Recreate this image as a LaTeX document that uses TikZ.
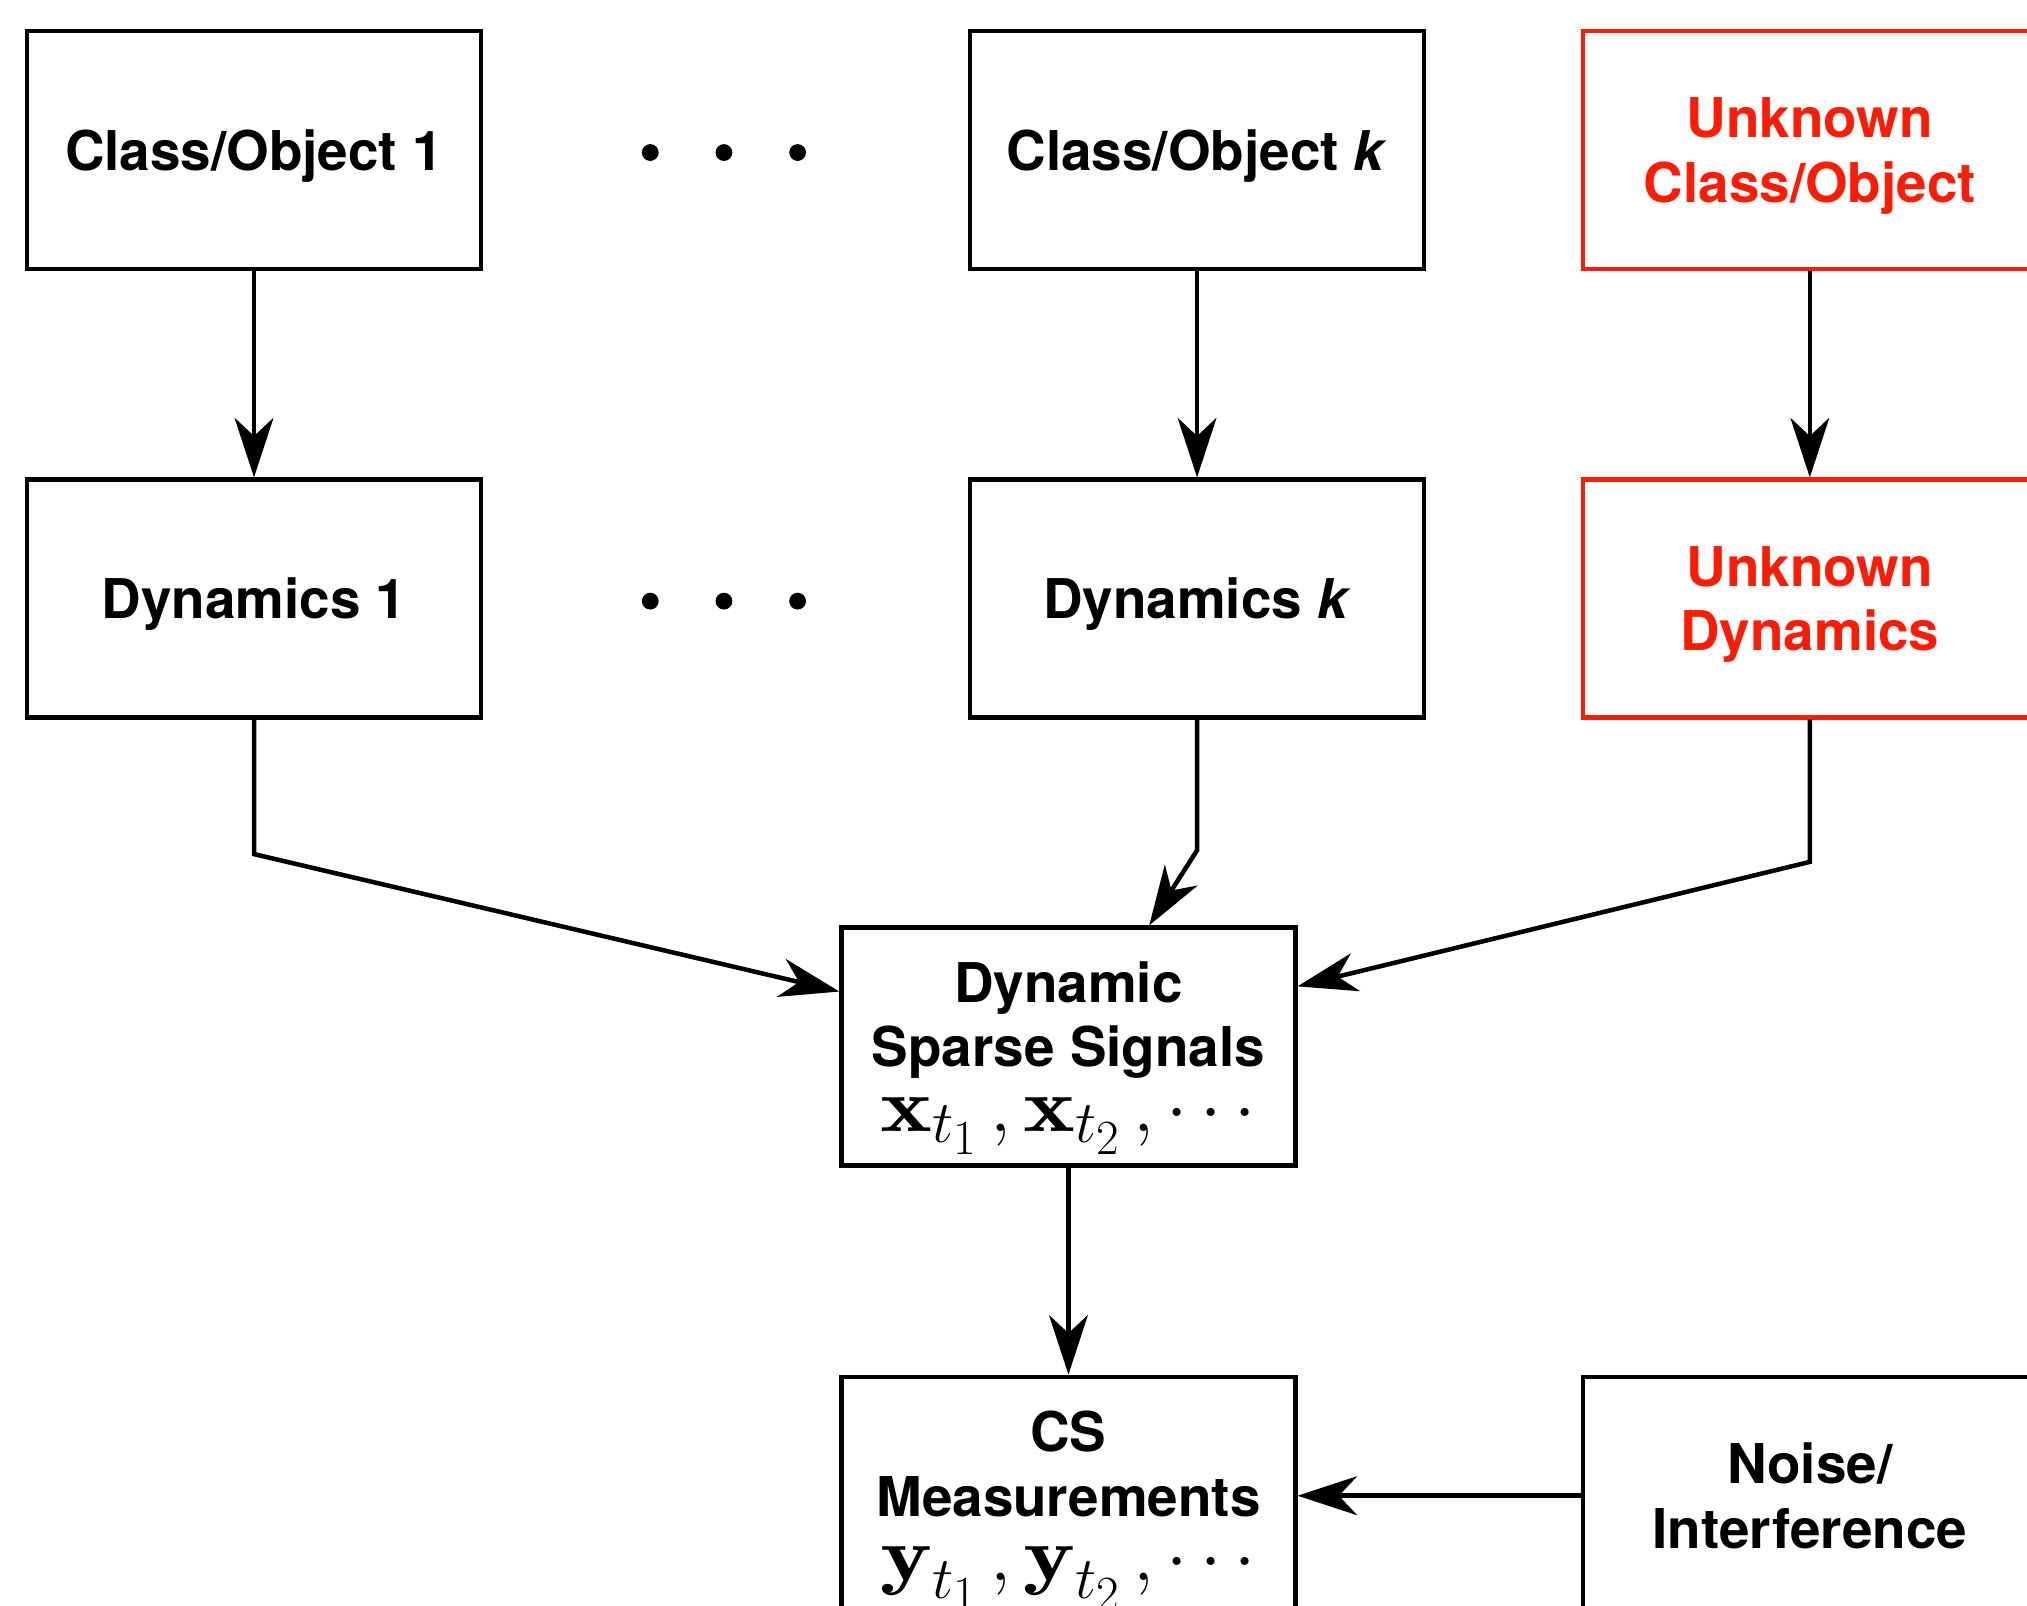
\RequirePackage{fix-cm}
\documentclass[tikz,border=0pt]{standalone}
\usepackage{fontspec}
\usepackage{graphicx}
\newfontfamily\heros{TeX Gyre Heros}
\usetikzlibrary{arrows.meta}
\definecolor{ured}{RGB}{250,28,5}
\DeclareMathSizes{59}{59}{46}{38}
\newcommand{\bx}[1]{\mathord{\scalebox{1.29}[1]{$\mathbf{#1}$}}}
\newcommand{\mathline}[1]{\fontsize{59}{50}\selectfont$#1$}
\begin{document}
\begin{tikzpicture}[x=1pt,y=-1pt,
  box/.style={draw, line width=3.4pt, minimum width=351pt, minimum height=184pt, inner sep=0pt, align=center, text depth=0pt, font=\heros\bfseries\fontsize{42.4}{50}\selectfont},
  ubox/.style={box, draw=ured, text=ured},
  arr/.style={-{Stealth[length=46pt,width=30pt,inset=14pt]}, line width=3.5pt},
  dot/.style={circle, fill, inner sep=0pt, minimum size=13pt},
]
\useasboundingbox (0,0) rectangle (1568,1242);
\clip (0,0) rectangle (1568,1242);

\node[box] (c1) at (196.5,116) {Class/Object 1};
\node[box] (ck) at (926,116) {Class/Object \textit{k}};
\node[ubox] (cu) at (1400,116) {Unknown\\Class/Object};

\node[box] (d1) at (196.5,463) {Dynamics 1};
\node[box] (dk) at (926,463) {Dynamics \textit{k}};
\node[ubox] (du) at (1400,463) {Unknown\\Dynamics};

\foreach \x/\n in {503/a,560/b,617/c}{
  \node[dot] (t\n) at (\x,118) {};
  \node[dot] (m\n) at (\x,465) {};
}

\node[box] (dss) at (826.5,809.5) {Dynamic\\Sparse Signals\\\mathline{\bx{x}_{t_1}\,,\bx{x}_{t_2}\,,\cdots}};
\node[box] (cs) at (826.5,1157) {CS\\Measurements\\\mathline{\bx{y}_{t_1}\,,\bx{y}_{t_2}\,,\cdots}};
\node[box] (nz) at (1400,1157) {Noise/\\Interference};

\draw[arr] (c1.south) -- (d1.north);
\draw[arr] (ck.south) -- (dk.north);
\draw[arr] (cu.south) -- (du.north);

\coordinate (b1) at ([yshift=-104pt]d1.south);
\coordinate (bk) at ([yshift=-101pt]dk.south);
\coordinate (bu) at ([yshift=-110pt]du.south);
\draw[arr] (d1.south) -- (b1) -- ([yshift=42.5pt]dss.west);
\draw[arr] (dk.south) -- (bk) -- ([xshift=62.5pt]dss.north);
\draw[arr] (du.south) -- (bu) -- ([yshift=46.5pt]dss.east);

\draw[arr] (dss.south) -- (cs.north);
\draw[arr] (nz.west) -- (cs.east);
\end{tikzpicture}
\end{document}
